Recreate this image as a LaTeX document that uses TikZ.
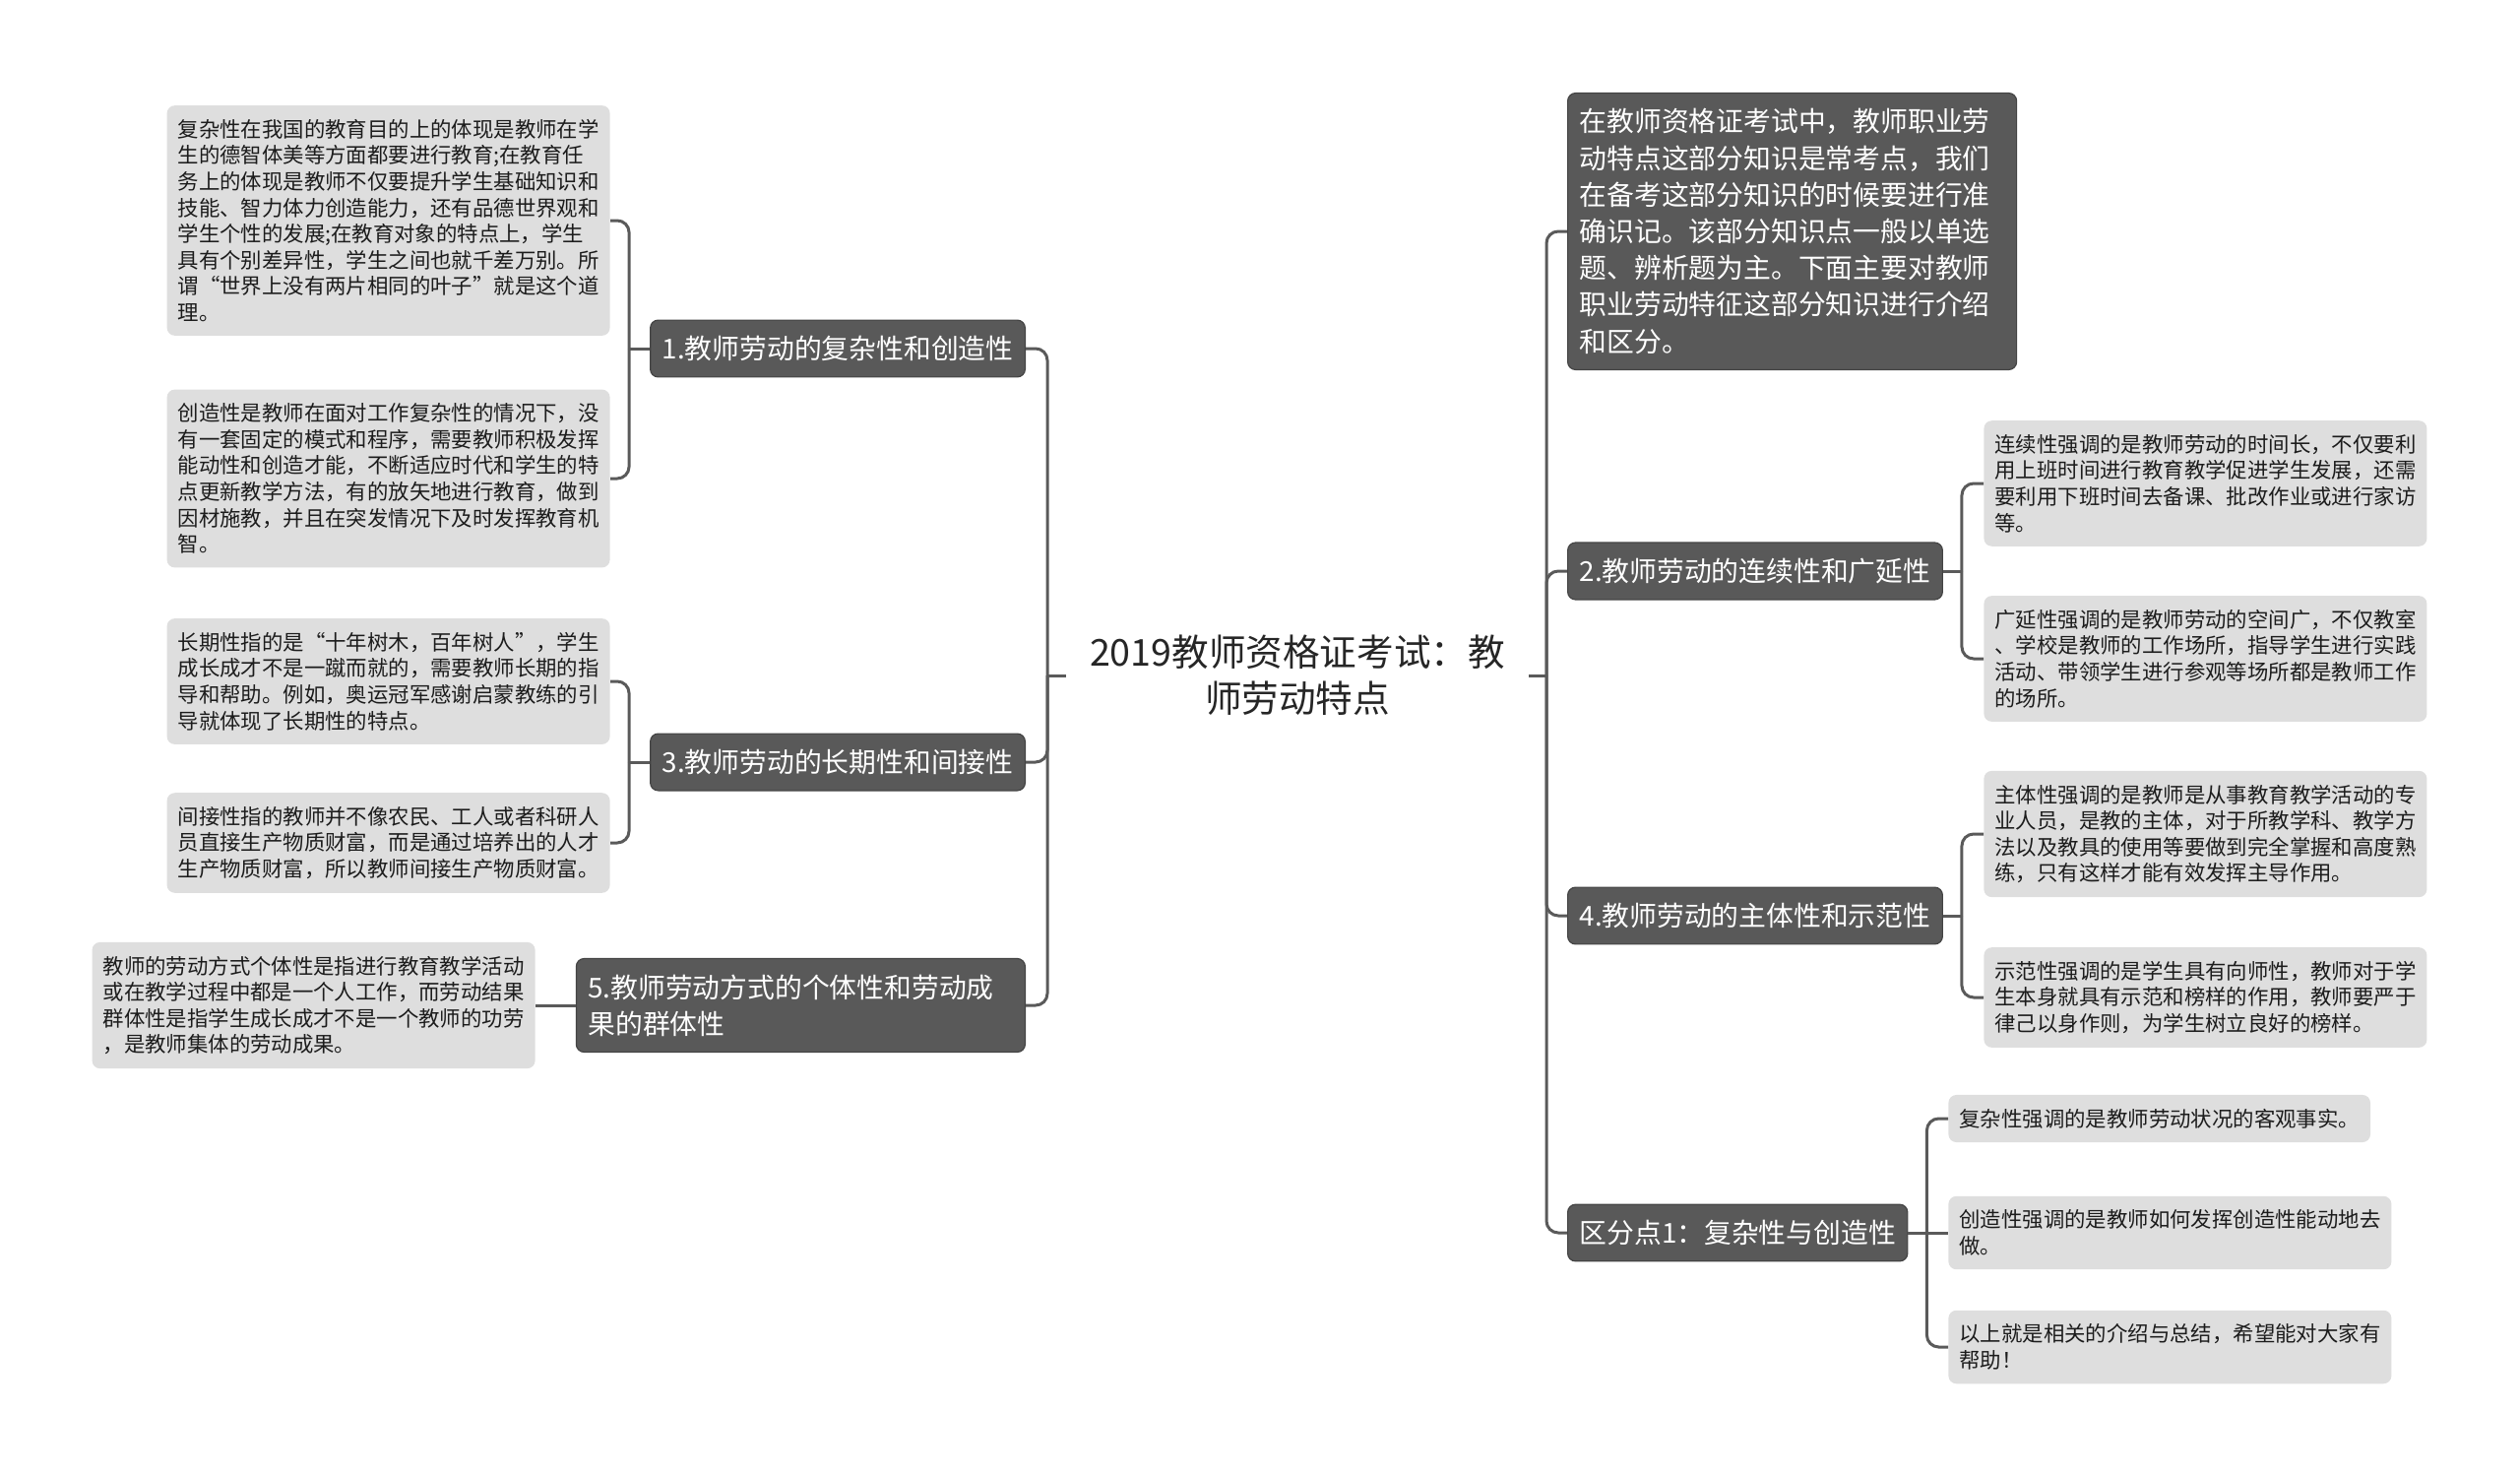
\documentclass[tikz,border=0pt]{standalone}
\usepackage{fontspec}
\setmainfont{Noto Sans CJK SC}
\definecolor{nodedark}{HTML}{595959}
\definecolor{nodeedge}{HTML}{444444}
\definecolor{leafgray}{HTML}{DEDEDE}
\definecolor{linkgray}{HTML}{5A5A5A}
\definecolor{titleink}{HTML}{262626}
\definecolor{leafink}{HTML}{1C1C1C}
\tikzset{
  mmtitle/.style={align=center, text=titleink, font={\fontsize{18.8pt}{23.5pt}\selectfont}, inner xsep=12pt, inner ysep=6pt},
  mmbranch/.style={draw=nodeedge, line width=0.6pt, fill=nodedark, rounded corners=4pt, text=white, align=left, inner xsep=6pt, inner ysep=8pt, font={\fontsize{13.9pt}{18.6pt}\selectfont}},
  mmleaf/.style={fill=leafgray, rounded corners=4pt, text=leafink, align=left, inner xsep=5.5pt, inner ysep=7pt, font={\fontsize{10.7pt}{13.3pt}\selectfont}},
  mmlink/.style={draw=linkgray, line width=1.5pt, rounded corners=6pt}
}

\begin{document}
\begin{tikzpicture}[x=0.5pt, y=-0.5pt]
\useasboundingbox (0,0) rectangle (2560,1499);
% centre
\node[mmtitle] (title) at (1318,686) {2019教师资格证考试：教\\师劳动特点};
\coordinate (ljoin) at (1064,686);
\coordinate (rjoin) at (1571,686);
% left branches
\node[mmbranch, anchor=east] (b1) at (1042,354) {1.教师劳动的复杂性和创造性};
\node[mmbranch, anchor=east] (b3) at (1042,774) {3.教师劳动的长期性和间接性};
\node[mmbranch, anchor=east, text width=216pt] (b5) at (1042,1021) {5.教师劳动方式的个体性和劳动成\\果的群体性};
\node[mmleaf, anchor=east] (l1a) at (620,224) {复杂性在我国的教育目的上的体现是教师在学\\生的德智体美等方面都要进行教育;在教育任\\务上的体现是教师不仅要提升学生基础知识和\\技能、智力体力创造能力，还有品德世界观和\\学生个性的发展;在教育对象的特点上，学生\\具有个别差异性，学生之间也就千差万别。所\\谓“世界上没有两片相同的叶子”就是这个道\\理。};
\node[mmleaf, anchor=east] (l1b) at (620,486) {创造性是教师在面对工作复杂性的情况下，没\\有一套固定的模式和程序，需要教师积极发挥\\能动性和创造才能，不断适应时代和学生的特\\点更新教学方法，有的放矢地进行教育，做到\\因材施教，并且在突发情况下及时发挥教育机\\智。};
\node[mmleaf, anchor=east] (l3a) at (620,692) {长期性指的是“十年树木，百年树人”，学生\\成长成才不是一蹴而就的，需要教师长期的指\\导和帮助。例如，奥运冠军感谢启蒙教练的引\\导就体现了长期性的特点。};
\node[mmleaf, anchor=east] (l3b) at (620,856) {间接性指的教师并不像农民、工人或者科研人\\员直接生产物质财富，而是通过培养出的人才\\生产物质财富，所以教师间接生产物质财富。};
\node[mmleaf, anchor=east] (l5) at (544,1021) {教师的劳动方式个体性是指进行教育教学活动\\或在教学过程中都是一个人工作，而劳动结果\\群体性是指学生成长成才不是一个教师的功劳\\，是教师集体的劳动成果。};
% right branches
\node[mmbranch, anchor=west, text width=216pt] (r0) at (1592,235) {在教师资格证考试中，教师职业劳\\动特点这部分知识是常考点，我们\\在备考这部分知识的时候要进行准\\确识记。该部分知识点一般以单选\\题、辨析题为主。下面主要对教师\\职业劳动特征这部分知识进行介绍\\和区分。};
\node[mmbranch, anchor=west] (b2) at (1592,580) {2.教师劳动的连续性和广延性};
\node[mmbranch, anchor=west] (b4) at (1592,930) {4.教师劳动的主体性和示范性};
\node[mmbranch, anchor=west] (b6) at (1592,1252) {区分点1：复杂性与创造性};
\node[mmleaf, anchor=west] (r2a) at (2015,491) {连续性强调的是教师劳动的时间长，不仅要利\\用上班时间进行教育教学促进学生发展，还需\\要利用下班时间去备课、批改作业或进行家访\\等。};
\node[mmleaf, anchor=west] (r2b) at (2015,669) {广延性强调的是教师劳动的空间广，不仅教室\\、学校是教师的工作场所，指导学生进行实践\\活动、带领学生进行参观等场所都是教师工作\\的场所。};
\node[mmleaf, anchor=west] (r4a) at (2015,847) {主体性强调的是教师是从事教育教学活动的专\\业人员，是教的主体，对于所教学科、教学方\\法以及教具的使用等要做到完全掌握和高度熟\\练，只有这样才能有效发挥主导作用。};
\node[mmleaf, anchor=west] (r4b) at (2015,1013) {示范性强调的是学生具有向师性，教师对于学\\生本身就具有示范和榜样的作用，教师要严于\\律己以身作则，为学生树立良好的榜样。};
\node[mmleaf, anchor=west] (r6a) at (1979,1136) {复杂性强调的是教师劳动状况的客观事实。};
\node[mmleaf, anchor=west] (r6b) at (1979,1252) {创造性强调的是教师如何发挥创造性能动地去\\做。};
\node[mmleaf, anchor=west] (r6c) at (1979,1368) {以上就是相关的介绍与总结，希望能对大家有\\帮助！};
% links
\draw[mmlink] (title.west) -- (ljoin);
\draw[mmlink] (title.east) -- (rjoin);
\foreach \n in {b1,b3,b5} \draw[mmlink] (ljoin) |- (\n.east);
\foreach \n in {r0,b2,b4,b6} \draw[mmlink] (rjoin) |- (\n.west);
\draw[mmlink] (b1.west) -- ++(-21,0) coordinate (j1);
\draw[mmlink] (j1) |- (l1a.east);
\draw[mmlink] (j1) |- (l1b.east);
\draw[mmlink] (b3.west) -- ++(-21,0) coordinate (j3);
\draw[mmlink] (j3) |- (l3a.east);
\draw[mmlink] (j3) |- (l3b.east);
\draw[mmlink] (b5.west) -- (l5.east);
\draw[mmlink] (b2.east) -- ++(19,0) coordinate (j2);
\draw[mmlink] (j2) |- (r2a.west);
\draw[mmlink] (j2) |- (r2b.west);
\draw[mmlink] (b4.east) -- ++(19,0) coordinate (j4);
\draw[mmlink] (j4) |- (r4a.west);
\draw[mmlink] (j4) |- (r4b.west);
\draw[mmlink] (b6.east) -- ++(19,0) coordinate (j6);
\draw[mmlink] (j6) |- (r6a.west);
\draw[mmlink] (j6) -- (r6b.west);
\draw[mmlink] (j6) |- (r6c.west);
\end{tikzpicture}
\end{document}
